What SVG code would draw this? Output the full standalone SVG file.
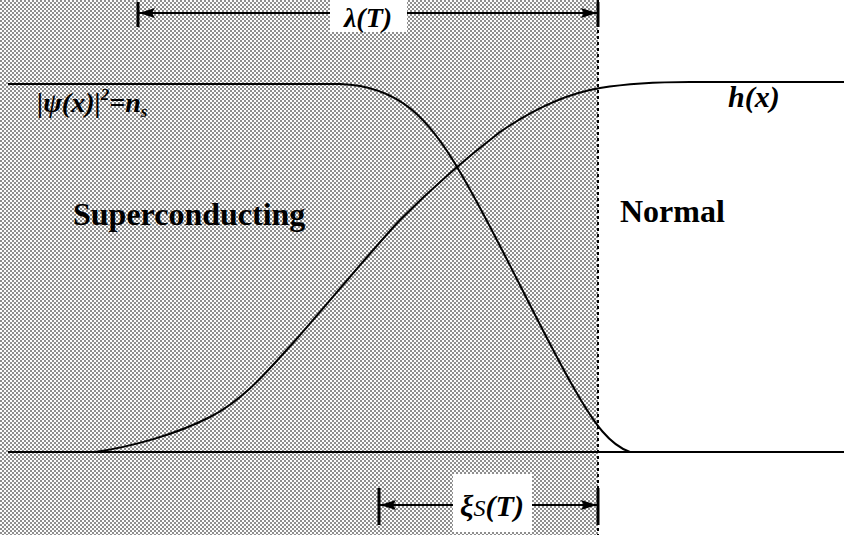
<svg xmlns="http://www.w3.org/2000/svg" width="844" height="535" viewBox="0 0 844 535">
<defs>
<pattern id="halftone" width="4" height="4" patternUnits="userSpaceOnUse">
<rect width="4" height="4" fill="#fcfcfc"/>
<rect x="0" y="0" width="2" height="2" fill="#8e8e8e"/>
<rect x="2" y="2" width="2" height="2" fill="#8e8e8e"/>
</pattern>
<marker id="ah" viewBox="0 0 16 10" refX="16" refY="5" markerWidth="16" markerHeight="10" markerUnits="userSpaceOnUse" orient="auto-start-reverse">
<path d="M0,0 L16,5 L0,10 L3,5 Z" fill="#000"/>
</marker>
</defs>
<style>
.lbl{font-family:"Liberation Serif","Times New Roman",serif;font-weight:bold;fill:#000}
.it{font-style:italic}
.curve{fill:none;stroke:#000;stroke-width:2}
.dim{stroke:#000;stroke-width:2;fill:none}
.bar{stroke:#000;stroke-width:3}
</style>
<rect width="844" height="535" fill="#fff"/>
<g id="superconducting-region">
<rect x="0" y="0" width="598" height="535" fill="url(#halftone)"/>
<line x1="598" y1="0" x2="598" y2="535" stroke="#000" stroke-width="2" stroke-dasharray="3,3"/>
</g>
<g id="connectors">
<line id="baseline" x1="8" y1="452" x2="844" y2="452" class="curve"/>
<path id="psi-curve" class="curve" d="M8,84 L340,84 C400,86 430,120 460,172 C500,240 540,330 575,390 C595,425 610,445 630,452"/>
<path id="h-curve" class="curve" d="M95,452 C130,447 175,435 210,417 C245,399 270,368 293,343 C320,313 370,252 400,220 C430,190 470,155 500,132 C535,108 570,93 600,88 C625,84 650,82 690,82 L844,82"/>
</g>
<g id="lambda-dimension">
<line class="bar" x1="138" y1="2" x2="138" y2="27"/>
<line class="bar" x1="598" y1="2" x2="598" y2="27"/>
<line class="dim" x1="139" y1="13" x2="330" y2="13" marker-start="url(#ah)"/>
<line class="dim" x1="407" y1="13" x2="597" y2="13" marker-end="url(#ah)"/>
<rect x="330" y="0" width="77" height="32" fill="#fff"/>
<text class="lbl it" x="368" y="27" font-size="28" text-anchor="middle">λ(T)</text>
</g>
<g id="xi-dimension">
<line class="bar" x1="379" y1="488" x2="379" y2="525"/>
<line class="bar" x1="598" y1="488" x2="598" y2="525"/>
<line class="dim" x1="380" y1="505" x2="453" y2="505" marker-start="url(#ah)"/>
<line class="dim" x1="532" y1="505" x2="597" y2="505" marker-end="url(#ah)"/>
<rect x="453" y="474" width="79" height="58" fill="#fff"/>
<text class="lbl it" x="492" y="516" font-size="30" text-anchor="middle">ξ<tspan font-size="24" font-weight="normal">S</tspan>(T)</text>
</g>
<g id="psi-label">
<text class="lbl it" x="37" y="112" font-size="28">|ψ(x)|<tspan font-size="17" dy="-12">2</tspan><tspan dy="12">=n</tspan><tspan font-size="17" dy="5">s</tspan></text>
</g>
<g id="h-label">
<text class="lbl it" x="728" y="107" font-size="30">h(x)</text>
</g>
<g id="superconducting-label">
<text class="lbl" x="73" y="225" font-size="32">Superconducting</text>
</g>
<g id="normal-label">
<text class="lbl" x="620" y="222" font-size="32">Normal</text>
</g>
</svg>
